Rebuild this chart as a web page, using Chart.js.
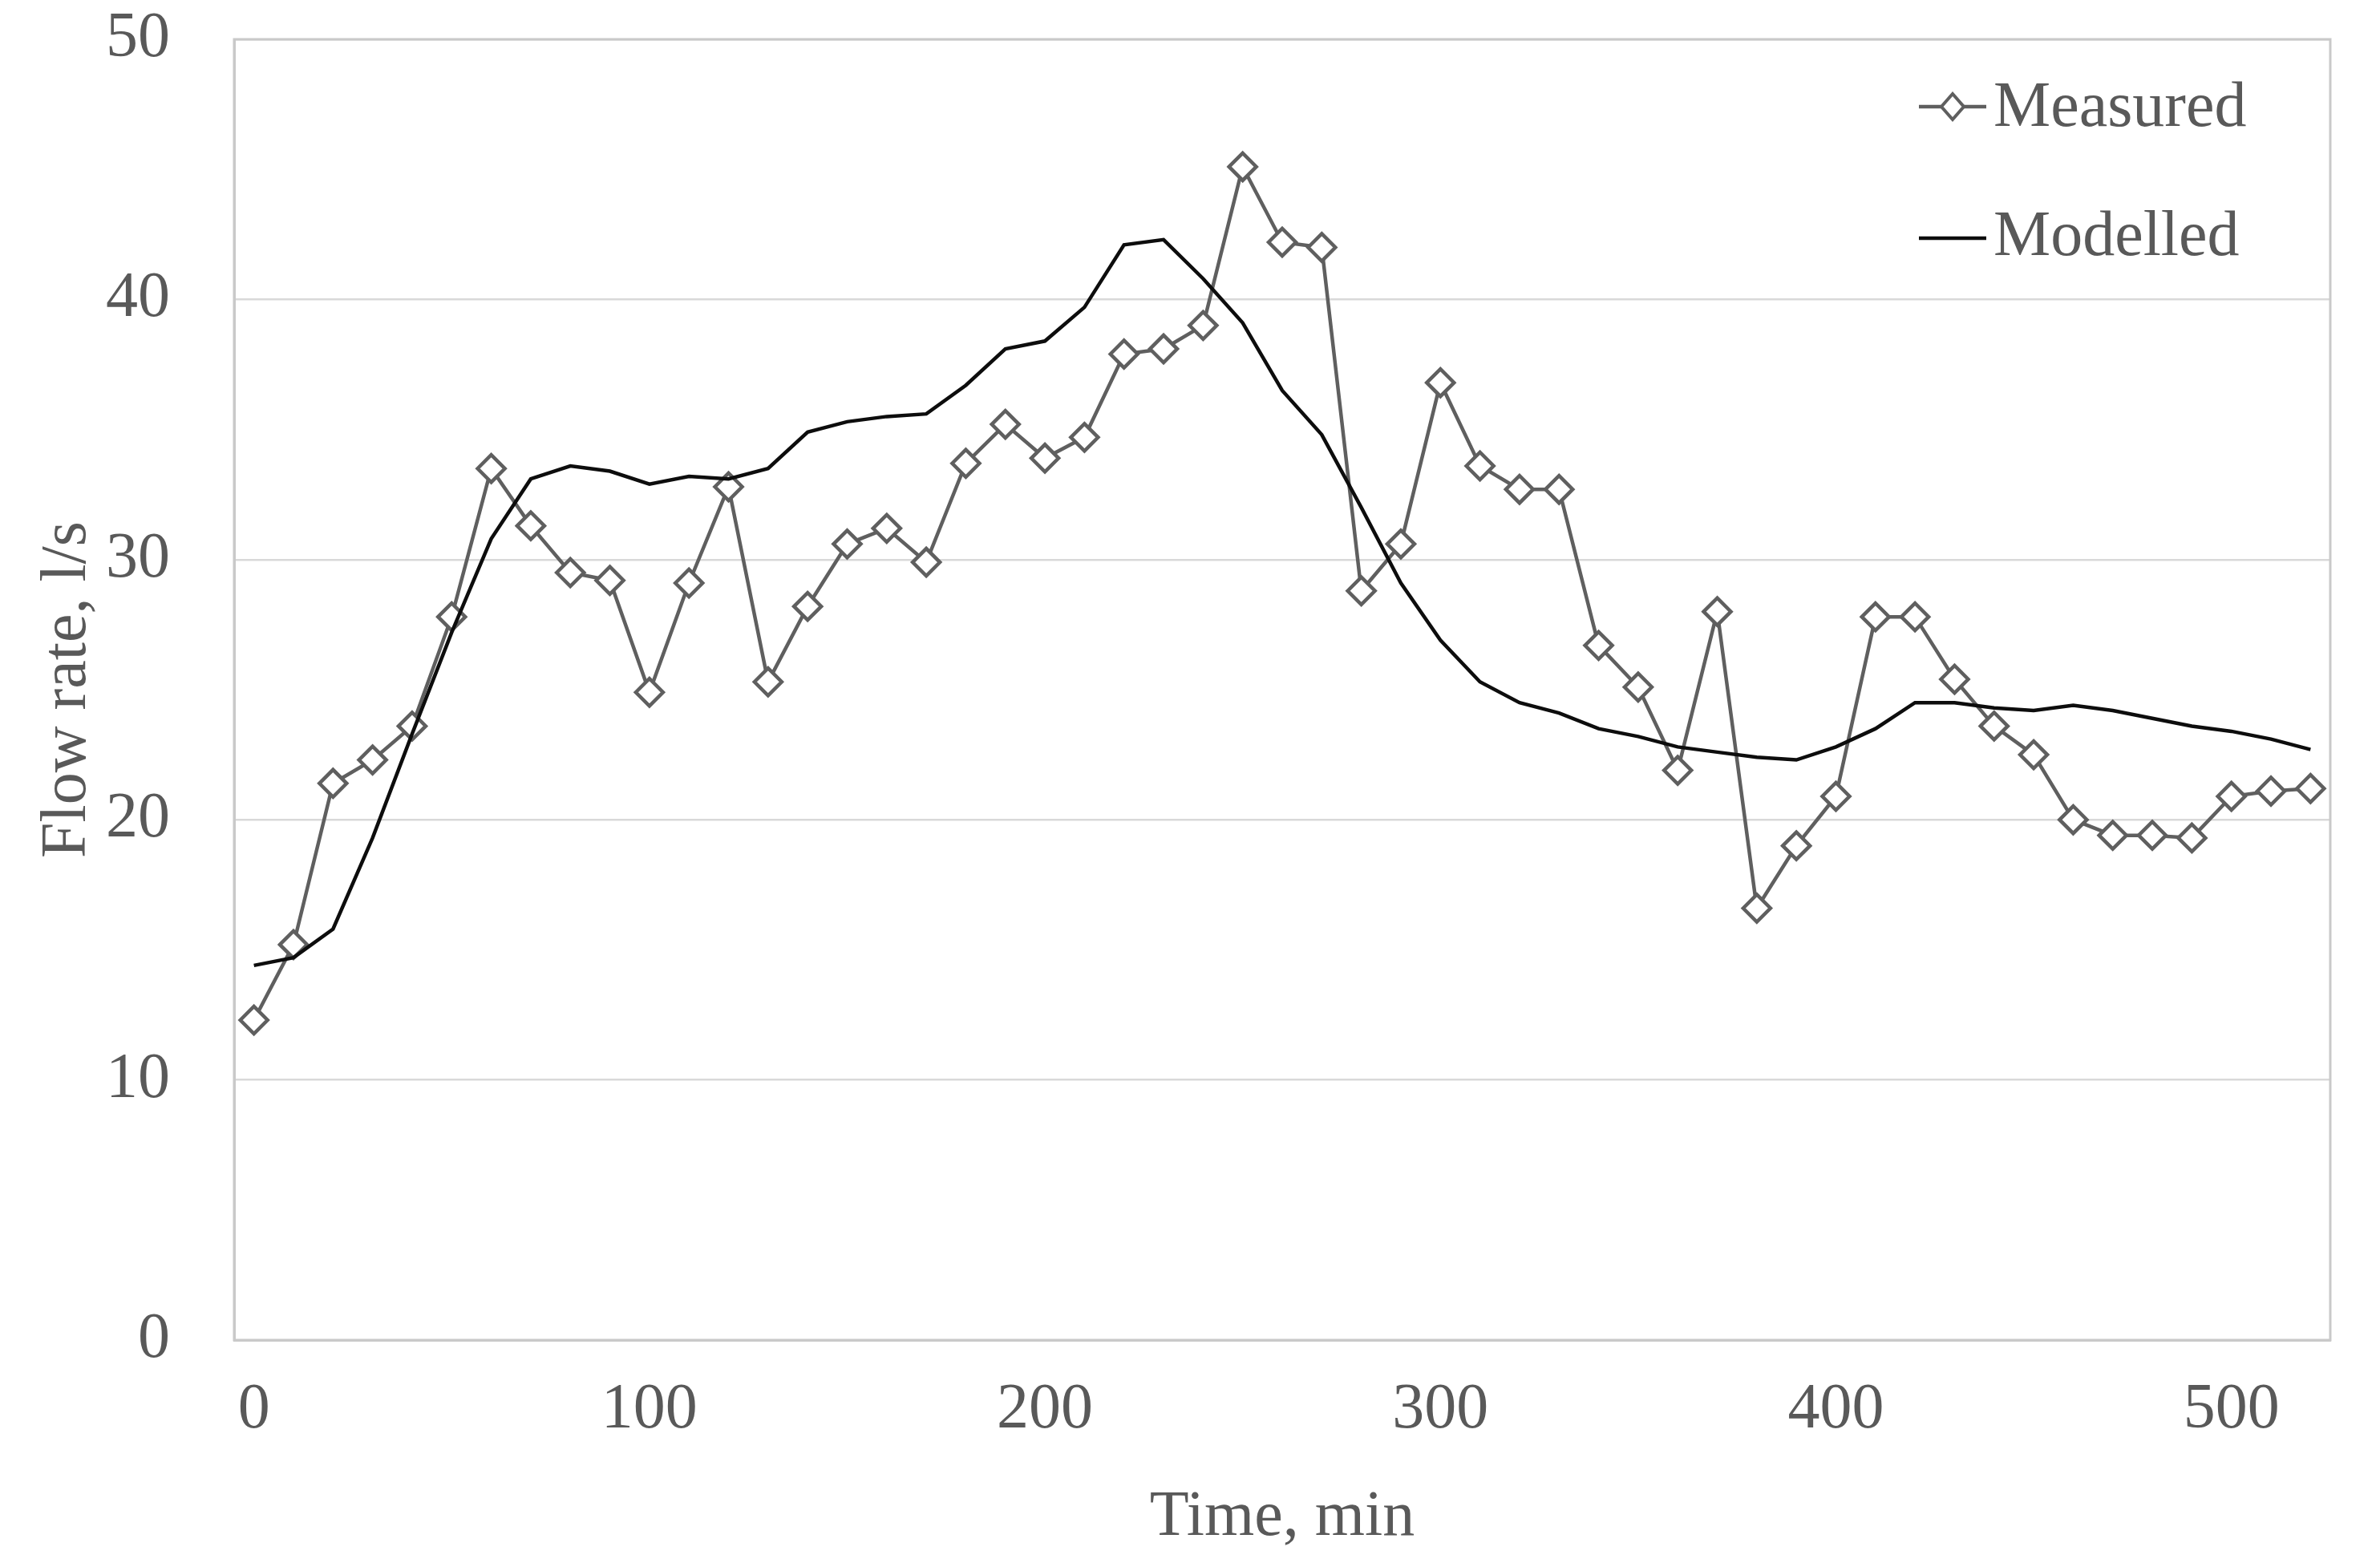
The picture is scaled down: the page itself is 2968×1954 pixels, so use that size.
<!DOCTYPE html>
<html>
<head>
<meta charset="utf-8">
<script src="https://cdn.jsdelivr.net/npm/chart.js@4.4.1/dist/chart.umd.min.js"></script>
<style>
  html, body { margin: 0; padding: 0; background: #fff; }
  canvas { display: block; }
</style>
</head>
<body>
<canvas id="flowChart" width="2968" height="1954"></canvas>
<script>
// time in minutes (category axis, one point every 10 min)
var times = [0, 10, 20, 30, 40, 50, 60, 70, 80, 90, 100, 110, 120, 130, 140, 150, 160, 170, 180, 190,
   200, 210, 220, 230, 240, 250, 260, 270, 280, 290, 300, 310, 320, 330, 340, 350, 360, 370, 380, 390,
   400, 410, 420, 430, 440, 450, 460, 470, 480, 490, 500, 510, 520];

// flow rate, l/s
var measured = [12.3, 15.2, 21.4, 22.3, 23.6, 27.8, 33.5, 31.3, 29.5, 29.2, 24.9, 29.1, 32.8, 25.3, 28.2,
   30.6, 31.2, 29.9, 33.7, 35.2, 33.9, 34.7, 37.9, 38.1, 39.0, 45.1, 42.2, 42.0, 28.8, 30.6, 36.8, 33.6,
   32.7, 32.7, 26.7, 25.1, 21.9, 28.0, 16.6, 19.0, 20.9, 27.8, 27.8, 25.4, 23.6, 22.5, 20.0, 19.4, 19.4,
   19.3, 20.9, 21.1, 21.2];
var modelled = [14.4, 14.7, 15.8, 19.3, 23.3, 27.2, 30.8, 33.1, 33.6, 33.4, 32.9, 33.2, 33.1, 33.5, 34.9,
   35.3, 35.5, 35.6, 36.7, 38.1, 38.4, 39.7, 42.1, 42.3, 40.8, 39.1, 36.5, 34.8, 32.0, 29.1, 26.9, 25.3,
   24.5, 24.1, 23.5, 23.2, 22.8, 22.6, 22.4, 22.3, 22.8, 23.5, 24.5, 24.5, 24.3, 24.2, 24.4, 24.2, 23.9,
   23.6, 23.4, 23.1, 22.7];
var yTicks = [0, 10, 20, 30, 40, 50];
var xTickLabels = [0, 100, 200, 300, 400, 500];

var textColor = '#595959';
var fontFamily = '"Liberation Serif", "Times New Roman", serif';

// light grey frame round the plot area
var frame = {
   id: 'frame',
   beforeDatasetsDraw: function(chart) {
      var a = chart.chartArea, ctx = chart.ctx;
      ctx.save();
      ctx.strokeStyle = '#c9c9c9';
      ctx.lineWidth = 3;
      ctx.strokeRect(a.left, a.top, a.right - a.left, a.bottom - a.top);
      ctx.restore();
   }
};

// legend sits inside the plot, top right, like the Excel one
var insideLegend = {
   id: 'insideLegend',
   afterDraw: function(chart) {
      var a = chart.chartArea, ctx = chart.ctx;
      var rows = [ {ds: chart.data.datasets[0], lineY: 84, textY: 108},
                   {ds: chart.data.datasets[1], lineY: 248, textY: 269} ];
      ctx.save();
      rows.forEach(function(r) {
         var x1 = a.right - 513, x2 = a.right - 429, y = a.top + r.lineY, xm = (x1 + x2) / 2;
         ctx.strokeStyle = r.ds.borderColor;
         ctx.lineWidth = r.ds.borderWidth;
         ctx.beginPath();
         ctx.moveTo(x1, y);
         ctx.lineTo(x2, y);
         ctx.stroke();
         if (r.ds.pointRadius > 0) {
            ctx.fillStyle = r.ds.pointBackgroundColor;
            ctx.strokeStyle = r.ds.pointBorderColor;
            ctx.lineWidth = 4;
            ctx.beginPath();
            ctx.moveTo(xm - 14, y);
            ctx.lineTo(xm, y - 16);
            ctx.lineTo(xm + 14, y);
            ctx.lineTo(xm, y + 16);
            ctx.closePath();
            ctx.fill();
            ctx.stroke();
         }
         ctx.fillStyle = textColor;
         ctx.font = '80px ' + fontFamily;
         ctx.textAlign = 'left';
         ctx.textBaseline = 'alphabetic';
         ctx.fillText(r.ds.label, a.right - 420, a.top + r.textY);
      });
      ctx.restore();
   }
};

const data = {
   labels: times,
   datasets: [{
      label: 'Measured',
      data: measured,
      borderColor: '#5f5f5f',
      borderWidth: 4.5,
      pointStyle: 'rectRot',
      pointRadius: 17,
      pointBackgroundColor: '#ffffff',
      pointBorderColor: '#5f5f5f',
      pointBorderWidth: 4.5,
      tension: 0,
      order: 2
   }, {
      label: 'Modelled',
      data: modelled,
      borderColor: '#0d0d0d',
      borderWidth: 4.5,
      pointRadius: 0,
      tension: 0,
      order: 1
   }]
};

const config = {
   type: 'line',
   data: data,
   plugins: [frame, insideLegend],
   options: {
      responsive: false,
      animation: false,
      devicePixelRatio: 1,
      layout: { padding: { left: 33, top: 49, right: 62, bottom: 9 } },
      plugins: {
         legend: { display: false },
         tooltip: { enabled: false }
      },
      scales: {
         x: {
            type: 'category',
            offset: true,
            grid: { display: false, drawTicks: false },
            border: { display: true, color: '#c9c9c9', width: 3 },
            ticks: {
               autoSkip: false,
               maxRotation: 0,
               padding: 40,
               color: textColor,
               font: { family: fontFamily, size: 80 },
               callback: function(value, index) {
                  return xTickLabels.indexOf(times[index]) >= 0 ? String(times[index]) : '';
               }
            },
            title: {
               display: true,
               text: 'Time, min',
               color: textColor,
               font: { family: fontFamily, size: 80 }
            },
            afterFit: function(scale) {
               scale.height = 274;
               scale.paddingLeft = 0;
               scale.paddingRight = 0;
            }
         },
         y: {
            min: 0,
            max: 50,
            afterBuildTicks: function(scale) {
               scale.ticks = yTicks.map(function(v) { return {value: v}; });
            },
            grid: { color: '#d9d9d9', lineWidth: 2.5, drawTicks: false },
            border: { display: true, color: '#c9c9c9', width: 3 },
            ticks: {
               padding: 80,
               color: textColor,
               font: { family: fontFamily, size: 80 }
            },
            title: {
               display: true,
               text: 'Flow rate, l/s',
               color: textColor,
               font: { family: fontFamily, size: 80 }
            },
            afterFit: function(scale) {
               scale.width = 259;
               scale.paddingTop = 0;
               scale.paddingBottom = 0;
            }
         }
      }
   }
};

var flowChart = new Chart(document.getElementById('flowChart'), config);
</script>
</body>
</html>
